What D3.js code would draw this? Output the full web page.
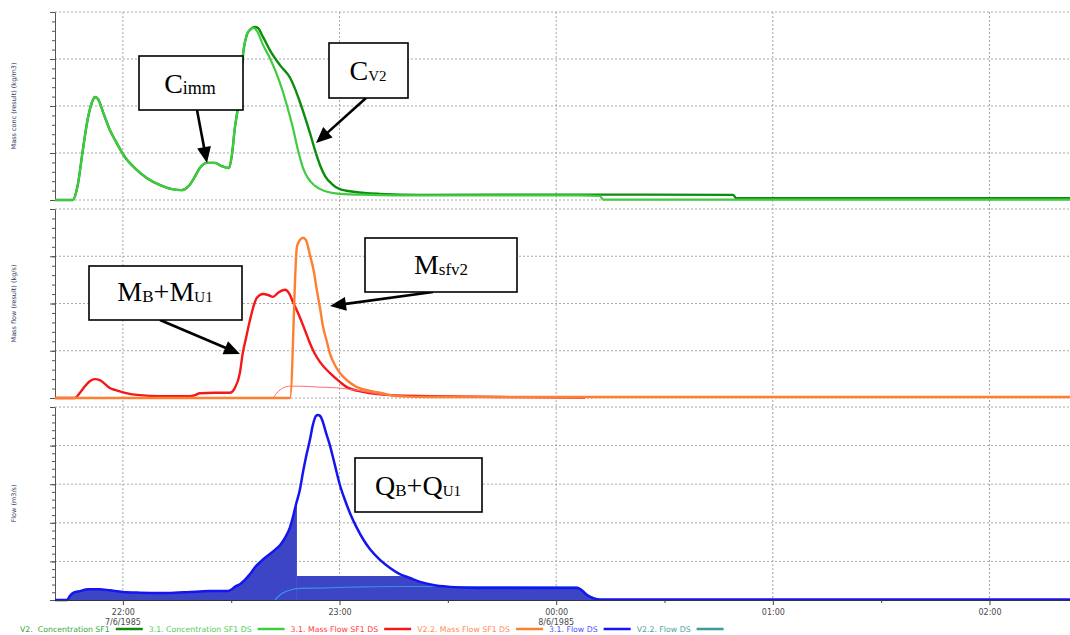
<!DOCTYPE html>
<html>
<head>
<meta charset="utf-8">
<script src="https://cdn.jsdelivr.net/npm/d3@7"></script>
<style>
  html, body { margin: 0; padding: 0; background: #fff; }
  svg { display: block; }
</style>
</head>
<body>
<svg id="chart" width="1070" height="635"></svg>
<script>
// Each series: [minutes after 22:00 on 7/6/1985, value]

// Panel 1 – mass concentration
const concV2 = [
  [-18.8,0],[-13.9,0],[-12.5,0.32],[-11.1,1.06],[-9.7,1.74],[-8.3,2.13],[-7.8,2.19],[-6.9,2.15],
  [-5.5,1.87],[-3.6,1.49],[-2.2,1.28],[0.6,0.91],[3.3,0.68],[6.6,0.47],[10.2,0.32],[13.6,0.23],
  [16.3,0.21],[18.0,0.28],[19.9,0.49],[21.3,0.68],[23.3,0.79],[25.5,0.79],[27.4,0.72],[29.4,0.68],
  [30.2,0.96],[31.0,1.53],[31.9,2.0],[32.7,2.66],[33.5,3.23],[34.3,3.51],[35.2,3.62],[36.6,3.68],
  [37.4,3.66],[38.8,3.47],[40.7,3.19],[43.5,2.87],[46.3,2.60],[47.6,2.38],[49.0,2.09],[50.4,1.77],
  [51.8,1.43],[53.2,1.06],[54.6,0.74],[56.0,0.51],[57.9,0.34],[60.1,0.23],[64.3,0.17],[71.2,0.13],
  [82.3,0.11],[125.8,0.115],[169.0,0.11],[169.8,0.04],[262.3,0.04]
];
const concSF1DS = [
  [-18.8,0],[-13.9,0],[-12.5,0.32],[-11.1,1.06],[-9.7,1.74],[-8.3,2.13],[-7.8,2.19],[-6.9,2.15],
  [-5.5,1.87],[-3.6,1.49],[-2.2,1.28],[0.6,0.91],[3.3,0.68],[6.6,0.47],[10.2,0.32],[13.6,0.23],
  [16.3,0.21],[18.0,0.28],[19.9,0.49],[21.3,0.68],[23.3,0.79],[25.5,0.79],[27.4,0.72],[29.4,0.68],
  [30.2,0.96],[31.0,1.53],[31.9,2.0],[32.7,2.66],[33.5,3.23],[34.3,3.51],[35.2,3.62],[36.0,3.66],
  [37.1,3.60],[38.8,3.30],[40.7,3.02],[43.5,2.49],[45.4,2.02],[47.1,1.53],[48.5,1.06],[49.9,0.68],
  [51.2,0.47],[53.2,0.30],[55.9,0.19],[60.1,0.13],[68.4,0.11],[76.7,0.10],[125.8,0.10],[132.1,0.085],
  [133.0,0.01],[262.3,0.01]
];

// Panel 2 – mass flow
const massFlowSF1DS = [
  [-18.8,0],[-13.3,0],[-11.9,0.11],[-10.5,0.25],[-9.1,0.36],[-7.8,0.40],[-6.4,0.38],[-5.0,0.30],
  [-3.6,0.21],[-2.2,0.17],[0.6,0.11],[4.7,0.06],[10.2,0.04],[18.6,0.04],[19.9,0.06],[21.3,0.10],
  [25.5,0.11],[29.6,0.11],[31.0,0.21],[32.4,0.53],[33.2,0.95],[34.1,1.27],[35.2,1.65],[36.3,1.97],
  [37.1,2.12],[38.8,2.20],[40.2,2.18],[41.6,2.14],[42.9,2.22],[44.9,2.29],[46.0,2.22],[47.1,2.03],
  [49.0,1.71],[50.4,1.44],[51.8,1.16],[53.2,0.93],[54.6,0.76],[57.3,0.53],[60.1,0.34],[62.0,0.23],
  [66.5,0.13],[74.0,0.06],[85.0,0.04],[104.4,0.02],[128.0,0.01]
];
const massFlowSF1Local = [
  [41.6,0],[42.9,0.13],[44.3,0.21],[46.3,0.25],[49.0,0.25],[54.6,0.23],[60.1,0.21],[65.7,0.15],
  [71.2,0.08],[76.7,0.04],[85.0,0.02]
];
const massFlowV22 = [
  [-18.8,0],[46.3,0],[48.2,3.20],[49.0,3.34],[49.9,3.39],[50.7,3.34],[51.8,3.03],[52.9,2.67],
  [53.7,2.29],[54.6,1.90],[55.4,1.52],[56.5,1.19],[57.3,0.95],[58.7,0.70],[60.1,0.53],[62.3,0.36],
  [64.8,0.23],[68.4,0.15],[71.2,0.11],[75.9,0.04],[85.0,0.02],[262.3,0.02]
];

// Panel 3 – flow
const flowDS = [
  [-18.8,0],[-15.5,0],[-14.7,0.10],[-13.9,0.18],[-11.9,0.23],[-9.7,0.28],[-6.4,0.28],[-3.6,0.25],
  [0,0.21],[4.7,0.19],[10.2,0.18],[14.4,0.19],[18.6,0.21],[24.1,0.23],[29.1,0.23],[30.2,0.28],
  [31.0,0.34],[32.4,0.41],[33.8,0.52],[35.2,0.67],[36.6,0.85],[38.0,0.98],[39.3,1.09],[40.7,1.19],
  [42.1,1.30],[43.5,1.42],[44.9,1.61],[46.3,1.89],[47.1,2.15],[47.9,2.46],[49.0,2.85],[49.9,3.32],
  [50.7,3.70],[51.8,4.15],[52.6,4.53],[53.5,4.77],[54.0,4.79],[54.6,4.77],[55.4,4.61],[56.2,4.35],
  [57.3,4.02],[58.7,3.50],[60.1,2.98],[61.5,2.59],[62.9,2.25],[64.8,1.87],[66.5,1.58],[68.4,1.32],
  [71.2,1.04],[74.0,0.83],[76.7,0.67],[79.5,0.57],[82.3,0.47],[85.9,0.39],[90.6,0.34],[98.1,0.31],
  [125.8,0.31],[127.4,0.23],[128.5,0.13],[130.2,0.05],[132.1,0.01],[262.3,0.01]
];
const flowV22 = [
  [42.1,0],[43.5,0.13],[44.9,0.21],[46.3,0.26],[49.0,0.30],[54.6,0.31],[66.5,0.34],[76.7,0.35],
  [90.6,0.35],[125.8,0.34],[127.4,0.23],[129.4,0.10],[132.1,0.01]
];
// filled storage band under the flow curve
const fillCutMinute = 48.2;
const fillCapValue = 0.62;

// Axis text
const panelTitles = ["Mass conc (result) (kg/m3)", "Mass flow (result) (kg/s)", "Flow (m3/s)"];
const panelMax = [4, 4, 5];
const dateLabels = [[0, "7/6/1985"], [120, "8/6/1985"]];
const legendLabels = ["V2.  Concentration SF1", "3.1. Concentration SF1 DS", "3.1. Mass Flow SF1 DS",
                      "V2.2. Mass Flow SF1 DS", "3.1. Flow DS", "V2.2. Flow DS"];

// ---------------------------------------------------------------------------
const C = {
  darkGreen: "#0f8c0f", lightGreen: "#40cc40", red: "#f41818", redThin: "#ff7070",
  orange: "#ff7f30", blue: "#1515f0", fill: "#3c45c6", thinBlue: "#3a90e6", teal: "#3f9a9a",
  grid: "#a8a8a8", axis: "#555"
};
const legendColors = [C.darkGreen, C.lightGreen, C.red, C.orange, C.blue, C.teal];
const legendTextColors = ["#3aa63a", "#55cc55", "#ff4040", "#ff8c55", "#5050ff", "#4fa3a3"];

const svg = d3.select("#chart");
const base = new Date(1985, 5, 7, 22, 0);
const toDate = m => new Date(base.getTime() + m * 60000);

const left = 55, right = 1070;
const x = d3.scaleTime().domain([toDate(-18.8), toDate(262.3)]).range([left, right]);

const panels = [
  { top: 12, bottom: 200 },
  { top: 209, bottom: 398 },
  { top: 407, bottom: 600 }
].map((p, i) => ({ ...p, max: panelMax[i], title: panelTitles[i],
  y: d3.scaleLinear().domain([0, panelMax[i]]).range([p.bottom, p.top]) }));

const gGrid = svg.append("g");
const hourTicks = x.ticks(d3.timeHour.every(1));

// vertical hour grid through all panels
gGrid.selectAll("line.v").data(hourTicks).join("line")
  .attr("x1", d => x(d)).attr("x2", d => x(d))
  .attr("y1", panels[0].top).attr("y2", panels[2].bottom)
  .attr("stroke", C.grid).attr("stroke-dasharray", "2,2");

panels.forEach((p, i) => {
  const vals = d3.range(0, p.max + 0.001, 1).filter(v => !(i === 2 && v === 0));
  gGrid.selectAll(null).data(vals).join("line")
    .attr("x1", left).attr("x2", right)
    .attr("y1", v => p.y(v)).attr("y2", v => p.y(v))
    .attr("stroke", C.grid).attr("stroke-dasharray", "2,2");

  // left axis: major + minor ticks
  const ax = svg.append("g").attr("transform", `translate(${left},0)`);
  ax.call(d3.axisLeft(p.y).tickValues(d3.range(0, p.max + 0.001, 1)).tickFormat("")
      .tickSize(5).tickSizeOuter(0));
  const mn = svg.append("g").attr("transform", `translate(${left},0)`);
  mn.call(d3.axisLeft(p.y).tickValues(d3.range(0, p.max, 0.2)).tickFormat("")
      .tickSize(3).tickSizeOuter(0));
  mn.select(".domain").remove();
  svg.selectAll("g path.domain, g .tick line").attr("stroke", C.axis);

  svg.append("text")
    .attr("transform", `translate(16,${(p.top + p.bottom) / 2}) rotate(-90)`)
    .attr("text-anchor", "middle")
    .attr("font-family", "DejaVu Sans").attr("font-size", 6.5)
    .attr("fill", "#2e3b58").text(p.title);
});

// ---------------------------------------------------------------------------
const lineFor = p => d3.line().x(d => x(toDate(d[0]))).y(d => p.y(d[1])).curve(d3.curveMonotoneX);
const areaFor = p => d3.area().x(d => x(toDate(d[0]))).y0(p.y(0)).y1(d => p.y(d[1])).curve(d3.curveMonotoneX);
const plot = svg.append("g");

function drawLine(data, p, color, width) {
  plot.append("path").datum(data).attr("d", lineFor(p))
    .attr("fill", "none").attr("stroke", color).attr("stroke-width", width)
    .attr("stroke-linejoin", "round");
}

// panel 1
drawLine(concV2, panels[0], C.darkGreen, 2.4);
drawLine(concSF1DS, panels[0], C.lightGreen, 2.2);

// panel 2
drawLine(massFlowSF1DS, panels[1], C.red, 2.4);
drawLine(massFlowSF1Local, panels[1], C.redThin, 1);
drawLine(massFlowV22, panels[1], C.orange, 2.4);

// panel 3: filled band, then the flow curves
const interp = (data, t) => {
  const i = d3.bisector(d => d[0]).left(data, t);
  const a = data[i - 1], b = data[i];
  return a[1] + (b[1] - a[1]) * (t - a[0]) / (b[0] - a[0]);
};
const fillBefore = flowDS.filter(d => d[0] < fillCutMinute).concat([[fillCutMinute, interp(flowDS, fillCutMinute)]]);
const fillAfter = [[fillCutMinute, fillCapValue]].concat(
  flowDS.filter(d => d[0] > fillCutMinute && d[0] < 140).map(d => [d[0], Math.min(d[1], fillCapValue)]));
plot.append("path").datum(fillBefore).attr("d", areaFor(panels[2])).attr("fill", C.fill);
plot.append("path").datum(fillAfter).attr("d", areaFor(panels[2])).attr("fill", C.fill);
drawLine(flowV22, panels[2], C.thinBlue, 1.2);
drawLine(flowDS, panels[2], C.blue, 2.5);

// ---------------------------------------------------------------------------
// time axis
const xAxis = svg.append("g").attr("transform", `translate(0,${panels[2].bottom})`)
  .call(d3.axisBottom(x).tickValues(hourTicks).tickFormat(d3.timeFormat("%H:%M"))
    .tickSize(5).tickSizeOuter(0).tickPadding(4));
xAxis.select(".domain").attr("stroke", "#333").attr("stroke-width", 1.2);
xAxis.selectAll(".tick line").attr("stroke", "#444");
xAxis.selectAll("text").attr("font-family", "DejaVu Sans").attr("font-size", 8).attr("fill", "#4a4a4a");

const halfTicks = x.ticks(d3.timeMinute.every(30)).filter(d => d.getMinutes() === 30);
const xMinor = svg.append("g").attr("transform", `translate(0,${panels[2].bottom})`)
  .call(d3.axisBottom(x).tickValues(halfTicks).tickFormat("").tickSize(3).tickSizeOuter(0));
xMinor.select(".domain").remove();
xMinor.selectAll(".tick line").attr("stroke", "#444");

svg.append("g").selectAll("text").data(dateLabels).join("text")
  .attr("x", d => x(toDate(d[0]))).attr("y", 625)
  .attr("text-anchor", "middle").attr("font-family", "DejaVu Sans").attr("font-size", 8)
  .attr("fill", "#4a4a4a").text(d => d[1]);

// legend
const legend = svg.append("g").attr("font-family", "DejaVu Sans").attr("font-size", 7.8);
let lx = 20;
legendLabels.forEach((label, i) => {
  const t = legend.append("text").attr("x", lx).attr("y", 632)
    .style("white-space", "pre").attr("fill", legendTextColors[i]).text(label);
  lx += t.node().getComputedTextLength() + 6;
  legend.append("line").attr("x1", lx).attr("x2", lx + 27).attr("y1", 629).attr("y2", 629)
    .attr("stroke", legendColors[i]).attr("stroke-width", 2.5);
  lx += 27 + 6;
});

// ---------------------------------------------------------------------------
// callouts
const notes = [
  { box: [139, 56, 104, 54], cx: 190, by: 93, parts: [["C", 28], ["imm", 18]], arrow: [197, 110, 207, 163] },
  { box: [329, 43, 79, 55], cx: 368, by: 80, parts: [["C", 28], ["V2", 15]], arrow: [366, 98, 316, 143] },
  { box: [89, 266, 153, 54], cx: 165, by: 301, parts: [["M", 28], ["B", 17], ["+M", 28], ["U1", 15]], arrow: [160, 320, 240, 354] },
  { box: [365, 238, 152, 54], cx: 441, by: 274, parts: [["M", 28], ["sfv2", 17]], arrow: [433, 292, 330, 306] },
  { box: [355, 458, 127, 54], cx: 418, by: 495, parts: [["Q", 28], ["B", 17], ["+Q", 28], ["U1", 15]], arrow: null }
];
const ann = svg.append("g");
notes.forEach(n => {
  if (n.arrow) {
    const [x1, y1, x2, y2] = n.arrow;
    const len = Math.hypot(x2 - x1, y2 - y1), ux = (x2 - x1) / len, uy = (y2 - y1) / len;
    const hl = 16, hw = 7;
    const bx = x2 - ux * hl, by = y2 - uy * hl;
    ann.append("line").attr("x1", x1).attr("y1", y1).attr("x2", bx + ux * 2).attr("y2", by + uy * 2)
      .attr("stroke", "#000").attr("stroke-width", 2.6);
    ann.append("path")
      .attr("d", `M${x2},${y2}L${bx - uy * hw},${by + ux * hw}L${bx + uy * hw},${by - ux * hw}Z`)
      .attr("fill", "#000");
  }
  const [bx, by, bw, bh] = n.box;
  ann.append("rect").attr("x", bx).attr("y", by).attr("width", bw).attr("height", bh)
    .attr("fill", "#fff").attr("stroke", "#000").attr("stroke-width", 1.6);
  const t = ann.append("text").attr("x", n.cx).attr("y", n.by).attr("text-anchor", "middle")
    .attr("font-family", "Liberation Serif").attr("fill", "#000");
  n.parts.forEach((p, j) => {
    const small = p[1] < 20;
    t.append("tspan").attr("font-size", p[1])
      .attr("dy", j === 0 ? 0 : (small ? 1 : -1)).text(p[0]);
  });
});
</script>
</body>
</html>
